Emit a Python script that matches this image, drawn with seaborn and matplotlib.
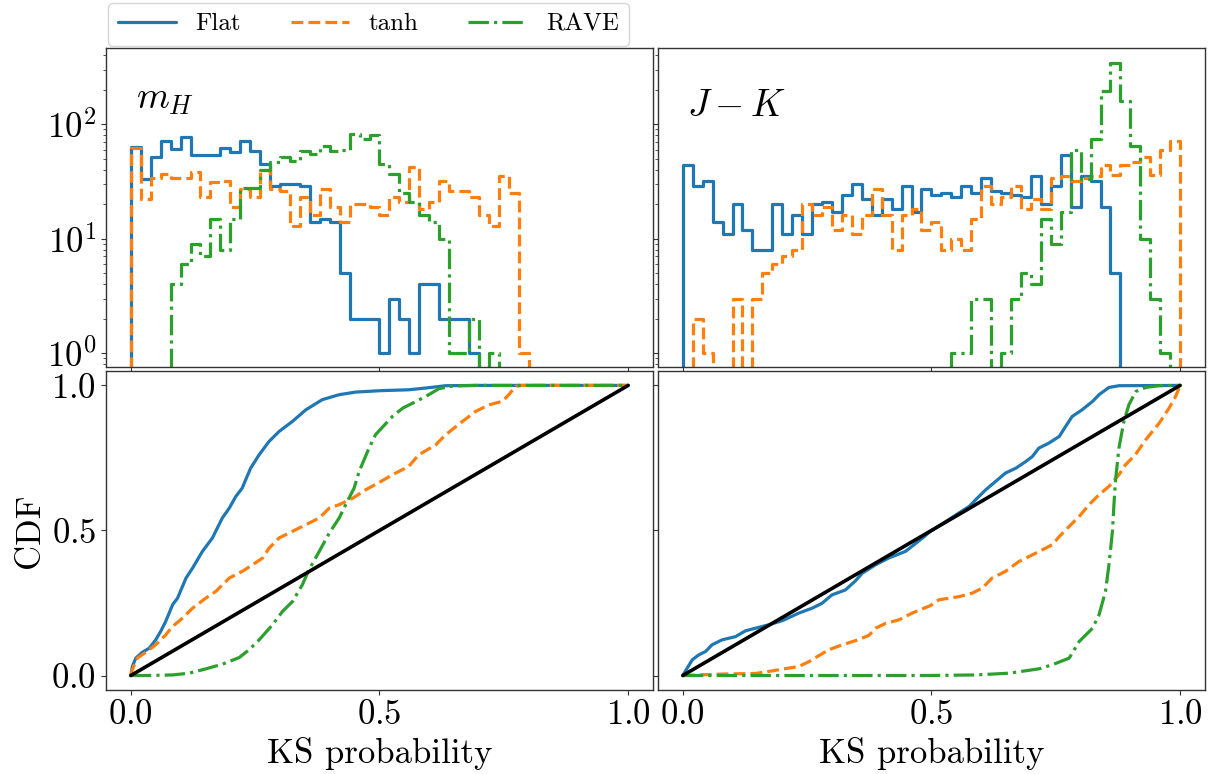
import numpy as np
import matplotlib
matplotlib.use("Agg")
import matplotlib.pyplot as plt
import seaborn as sns

# histogram bins: 50 bins of width 0.02 on [0, 1]
bin_edges = np.linspace(0, 1, 51)

# counts per bin (log scale)
flat_mh = [63, 33, 52, 71, 61, 78, 54, 54, 54, 62, 57, 72, 58, 45, 29, 30, 30, 29, 14, 15,
           14, 5, 2, 2, 2, 1, 3, 2, 1, 4, 4, 2, 2, 2, 1, 0, 0, 0, 0, 0,
           0, 0, 0, 0, 0, 0, 0, 0, 0, 0]
tanh_mh = [62, 22, 34, 37, 34, 34, 38, 23, 31, 32, 19, 27, 23, 40, 27, 26, 13, 23, 16, 27,
           19, 14, 20, 20, 19, 16, 23, 21, 42, 18, 21, 32, 26, 26, 23, 16, 13, 35, 25, 1,
           0, 0, 0, 0, 0, 0, 0, 0, 0, 0]
rave_mh = [0, 0, 0, 0, 4, 6, 9, 7, 15, 8, 15, 28, 28, 40, 47, 52, 48, 58, 55, 65,
           58, 60, 82, 74, 80, 45, 37, 25, 21, 16, 14, 10, 1, 1, 2, 0, 1, 0, 0, 0,
           0, 0, 0, 0, 0, 0, 0, 0, 0, 0]

flat_jk = [44, 29, 32, 14, 11, 20, 12, 8, 8, 20, 11, 16, 11, 20, 21, 17, 24, 30, 22, 16,
           22, 18, 29, 17, 27, 24, 25, 23, 29, 25, 34, 26, 25, 24, 23, 35, 20, 29, 54, 19,
           35, 32, 19, 5, 0, 0, 0, 0, 0, 0]
tanh_jk = [0, 2, 1, 0, 0, 3, 0, 3, 5, 6, 7, 8, 20, 16, 19, 12, 16, 11, 16, 27,
           16, 8, 16, 18, 12, 14, 8, 10, 8, 15, 29, 20, 23, 29, 18, 22, 18, 34, 35, 32,
           34, 35, 44, 36, 44, 47, 52, 36, 60, 71]
rave_jk = [0, 0, 0, 0, 0, 0, 0, 0, 0, 0, 0, 0, 0, 0, 0, 0, 0, 0, 0, 0,
           0, 0, 0, 0, 0, 0, 0, 1, 1, 3, 3, 0, 1, 3, 5, 4, 15, 9, 17, 60,
           33, 74, 197, 346, 160, 64, 10, 3, 1, 0]

# CDF curves
cdf_flat_mh_x = [0, .003, .010, .023, .037, .050, .060, .070, .084, .094, .111, .124, .144, .164,
                 .184, .198, .211, .224, .231, .241, .258, .278, .298, .325, .352, .385, .419,
                 .452, .503, .559, .593, .633, .693, 1.0]
cdf_flat_mh_y = [0, .031, .060, .080, .094, .123, .152, .186, .244, .267, .336, .370, .428, .474,
                 .543, .577, .617, .646, .675, .715, .761, .807, .841, .876, .916, .951, .968,
                 .977, .982, .985, .991, .999, 1.0, 1.0]
cdf_tanh_mh_x = [0, .003, .013, .030, .050, .070, .084, .104, .124, .151, .171, .198, .224, .245,
                 .265, .278, .298, .325, .352, .379, .399, .419, .446, .472, .503, .526, .559,
                 .579, .613, .633, .667, .693, .720, .747, .760, .774, .787, 1.0]
cdf_tanh_mh_y = [0, .020, .060, .080, .106, .140, .169, .198, .232, .267, .290, .336, .359, .382,
                 .405, .439, .474, .497, .520, .543, .577, .589, .611, .640, .669, .692, .721,
                 .761, .795, .830, .876, .910, .933, .945, .968, .997, 1.0, 1.0]
cdf_rave_mh_x = [0, .030, .084, .117, .151, .184, .218, .238, .258, .285, .305, .325, .345, .358,
                 .379, .399, .419, .432, .449, .459, .479, .492, .526, .547, .567, .593, .620,
                 .647, .693, 1.0]
cdf_rave_mh_y = [0, 0, .002, .008, .023, .039, .062, .089, .123, .175, .221, .255, .313, .364,
                 .428, .491, .543, .589, .646, .703, .784, .830, .893, .922, .939, .962, .989,
                 .998, 1.0, 1.0]

cdf_flat_jk_x = [0, .0087, .019, .032, .046, .059, .079, .106, .126, .146, .173, .200, .233, .260,
                 .280, .300, .327, .347, .361, .388, .414, .448, .482, .498, .508, .529, .555,
                 .576, .589, .609, .629, .649, .670, .690, .703, .716, .736, .757, .770, .783,
                 .803, .824, .837, .857, .877, 1.0]
cdf_flat_jk_y = [0, .025, .054, .071, .083, .106, .123, .134, .154, .163, .175, .189, .215, .232,
                 .249, .278, .295, .326, .353, .382, .405, .428, .474, .497, .508, .531, .560,
                 .583, .606, .640, .669, .698, .715, .738, .755, .784, .801, .824, .859, .893,
                 .916, .945, .968, .993, .999, 1.0]
cdf_tanh_jk_x = [0, .032, .079, .146, .173, .200, .233, .254, .274, .294, .321, .347, .374, .388,
                 .408, .435, .461, .482, .498, .515, .556, .582, .602, .622, .649, .676, .710,
                 .743, .757, .777, .797, .817, .837, .857, .877, .890, .910, .931, .958, .978,
                 .991, 1.0]
cdf_tanh_jk_y = [0, .002, .005, .007, .014, .022, .031, .048, .069, .089, .106, .120, .138, .163,
                 .180, .192, .215, .230, .241, .261, .272, .284, .301, .336, .359, .393, .422,
                 .451, .479, .514, .548, .589, .623, .652, .692, .726, .761, .813, .870, .922,
                 .962, 1.0]
cdf_rave_jk_x = [0, .488, .589, .656, .716, .743, .777, .797, .824, .837, .850, .857, .864, .867,
                 .870, .877, .887, .897, .911, .931, .957, 1.0]
cdf_rave_jk_y = [0, 0, .002, .008, .023, .037, .060, .117, .163, .209, .290, .382, .497, .589,
                 .669, .784, .876, .933, .979, .993, .999, 1.0]

# uniform reference line
ref_x = [0, 1]
ref_y = [0, 1]

labels = ["Flat", "tanh", "RAVE"]
colors = ["#1f77b4", "#ff7f0e", "#2ca02c"]
styles = ["-", "--", "-."]

sns.set_style("ticks")
plt.rcParams.update({
    "font.family": "cmr10",
    "mathtext.fontset": "cm",
    "axes.formatter.use_mathtext": True,
    "axes.unicode_minus": False,
    "font.size": 25,
    "axes.labelsize": 25,
    "xtick.labelsize": 25,
    "ytick.labelsize": 25,
    "axes.edgecolor": "0.2",
    "axes.linewidth": 1.0,
    "xtick.color": "0.2",
    "ytick.color": "0.2",
    "xtick.labelcolor": "black",
    "ytick.labelcolor": "black",
    "text.color": "black",
    "axes.labelcolor": "black",
    "xtick.major.size": 3.5,
    "ytick.major.size": 3.5,
    "xtick.minor.size": 2,
    "ytick.minor.size": 2,
})

fig, axes = plt.subplots(2, 2, figsize=(12.11, 7.74), dpi=100, sharex=True, sharey="row")
fig.subplots_adjust(left=0.0875, right=0.995, top=0.9376, bottom=0.1085,
                    wspace=0.009, hspace=0.011)

# pad one empty bin on each side so the steps drop to the axis at the ends
bw = bin_edges[1] - bin_edges[0]
pad_edges = np.concatenate([[bin_edges[0] - bw], bin_edges, [bin_edges[-1] + bw]])
pad_centers = (pad_edges[:-1] + pad_edges[1:]) / 2
n_pad_bins = len(pad_edges) - 1

hist_sets = [[flat_mh, tanh_mh, rave_mh], [flat_jk, tanh_jk, rave_jk]]
cdf_sets = [
    [(cdf_flat_mh_x, cdf_flat_mh_y), (cdf_tanh_mh_x, cdf_tanh_mh_y), (cdf_rave_mh_x, cdf_rave_mh_y)],
    [(cdf_flat_jk_x, cdf_flat_jk_y), (cdf_tanh_jk_x, cdf_tanh_jk_y), (cdf_rave_jk_x, cdf_rave_jk_y)],
]
names = [r"$m_H$", r"$J-K$"]
name_y = [0.812, 0.788]
lw = 2.3

for col in range(2):
    ax_h = axes[0, col]
    ax_c = axes[1, col]
    for counts, c, ls, lab in zip(hist_sets[col], colors, styles, labels):
        w = np.concatenate([[0], counts, [0]]).astype(float)
        sns.histplot(x=pad_centers, weights=w, bins=n_pad_bins,
                     binrange=(pad_edges[0], pad_edges[-1]), element="step", fill=False,
                     color=c, linestyle=ls, linewidth=lw, ax=ax_h, label=lab, legend=False)
    ax_h.set_yscale("log")
    ax_h.set_ylabel("")
    ax_h.text(0.054, name_y[col], names[col], transform=ax_h.transAxes, fontsize=27,
              va="baseline", ha="left")

    for (cx, cy), c, ls, lab in zip(cdf_sets[col], colors, styles, labels):
        sns.lineplot(x=cx, y=cy, color=c, linestyle=ls, linewidth=lw, ax=ax_c,
                     label=lab, legend=False, estimator=None, sort=False)
    sns.lineplot(x=ref_x, y=ref_y, color="black", linewidth=2.6, ax=ax_c,
                 legend=False, estimator=None, sort=False)
    ax_c.set_xlabel("KS probability")

axes[0, 0].set_ylim(0.75, 461)
axes[1, 0].set_ylim(-0.05, 1.05)
axes[1, 0].set_xlim(-0.05, 1.05)
axes[1, 0].set_xticks([0.0, 0.5, 1.0])
axes[1, 0].set_yticks([0.0, 0.5, 1.0])
axes[1, 0].set_ylabel("CDF")
axes[1, 1].set_ylabel("")

handles, labs = axes[1, 0].get_legend_handles_labels()
fig.legend(handles[:3], labs[:3], loc="upper left", bbox_to_anchor=(108 / 1211, 1 - 3 / 774),
           borderaxespad=0, ncol=3, fontsize=18, handlelength=2.3, frameon=True)

fig.savefig("out.png", dpi=100)
